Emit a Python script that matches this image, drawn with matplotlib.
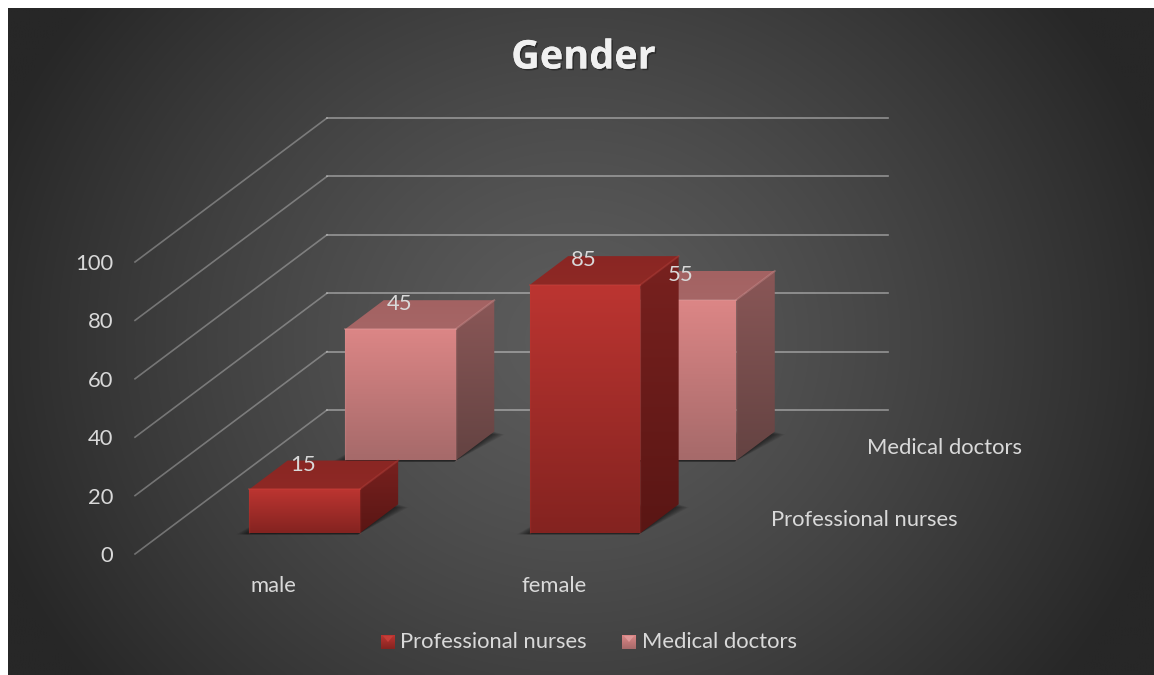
import numpy as np
import matplotlib
matplotlib.use("Agg")
import matplotlib.pyplot as plt
from matplotlib.colors import to_rgb
from matplotlib.patches import Polygon
import matplotlib.patheffects as pe

categories = ["male", "female"]
series_names = ["Professional nurses", "Medical doctors"]
nurses = [15, 85]
doctors = [45, 55]
value_ticks = [0, 20, 40, 60, 80, 100]

plt.rcParams['font.family'] = ['Lato', 'DejaVu Sans']
TEXT = "#d9d9d9"
FS = 15.85

# oblique projection of (category, depth, value) to picture pixels
ORIGIN_X, ORIGIN_Y = 135, 554
CAT_W = 280.5
DEPTH_X, DEPTH_Y = 192, 144
VALUE_H = 2.92
BAR_W = 0.394
BAR_D = 0.2


def project(c, d, v):
    return (ORIGIN_X + CAT_W * c + DEPTH_X * d,
            ORIGIN_Y - VALUE_H * v - DEPTH_Y * d)


def grad_poly(ax, verts, top, bottom, z):
    verts = np.array(verts)
    x0, y0 = verts.min(axis=0)
    x1, y1 = verts.max(axis=0)
    t = np.linspace(0, 1, 64)[:, None, None]
    img = (1 - t) * np.array(to_rgb(top))[None, None, :] + t * np.array(to_rgb(bottom))[None, None, :]
    im = ax.imshow(img, extent=(x0, x1, y1, y0), aspect='auto', zorder=z, interpolation='bilinear')
    clip = Polygon(verts, closed=True, transform=ax.transData)
    im.set_clip_path(clip)


def draw_bar(ax, i, depth, value, colors, z, nudge=0.0):
    c0 = i + 0.5 - BAR_W / 2 + nudge
    c1 = i + 0.5 + BAR_W / 2 + nudge
    d0 = depth - BAR_D / 2
    d1 = depth + BAR_D / 2

    # soft shadow on the floor, a few stacked polygons
    for grow in np.linspace(0.05, 0.0, 9):
        foot = [project(c0 - grow * 0.8, d0 - 0.008, 0), project(c1, d0 - 0.008, 0),
                project(c1 + grow, d1 - grow * 0.4, 0), project(c0, d1 - grow * 0.4, 0)]
        ax.add_patch(Polygon(foot, closed=True, fc="black", ec="none", alpha=0.075, zorder=z))

    front = [project(c0, d0, value), project(c1, d0, value), project(c1, d0, 0), project(c0, d0, 0)]
    side = [project(c1, d0, value), project(c1, d1, value), project(c1, d1, 0), project(c1, d0, 0)]
    top = [project(c0, d0, value), project(c1, d0, value), project(c1, d1, value), project(c0, d1, value)]

    grad_poly(ax, side, colors["side"][0], colors["side"][1], z + 0.1)
    grad_poly(ax, top, colors["top"][0], colors["top"][1], z + 0.2)
    grad_poly(ax, front, colors["front"][0], colors["front"][1], z + 0.3)

    # bevel highlights on the edges
    edge = colors["edge"]
    ax.plot(*zip(front[0], front[1]), color=edge, lw=1.4, alpha=0.4, zorder=z + 0.4)
    ax.plot(*zip(front[1], top[2]), color=edge, lw=1.4, alpha=0.35, zorder=z + 0.4)
    ax.plot(*zip(front[0], front[3]), color=edge, lw=1.0, alpha=0.2, zorder=z + 0.4)
    ax.plot(*zip(front[1], front[2]), color=edge, lw=1.0, alpha=0.2, zorder=z + 0.4)


nurse_colors = {"front": ("#bc3531", "#842320"), "side": ("#78211f", "#5a1614"),
                "top": ("#8a2623", "#8e2925"), "edge": "#c8403a"}
doctor_colors = {"front": ("#dc8686", "#a66a6a"), "side": ("#8a5757", "#644342"),
                 "top": ("#a36262", "#a66666"), "edge": "#e09a9a"}

fig = plt.figure(figsize=(11.54, 6.75), dpi=100, facecolor="white")
ax = fig.add_axes([0, 0, 1, 1])
ax.axis("off")

# radial background
xx, yy = np.meshgrid(np.linspace(8, 1154, 400), np.linspace(8, 675, 240))
r = np.sqrt(((xx - 575) / 620) ** 2 + ((yy - 340) / 560) ** 2)
r = np.clip(r, 0, 1) ** 1.3
shade = (0x5c * (1 - r) + 0x27 * r) / 255
ax.imshow(np.dstack([shade, shade, shade]), extent=(8, 1154, 675, 8), aspect='auto',
          zorder=0, interpolation='bilinear')

# gridlines: along the side wall, then along the back wall
for v in value_ticks:
    pts = [project(0, 0, v), project(0, 1, v), project(2, 1, v)]
    ax.plot(*zip(pts[0], pts[1]), color="#ffffff", alpha=0.3, lw=1.2, zorder=1)
    ax.plot(*zip(pts[1], pts[2]), color="#ffffff", alpha=0.42, lw=1.2, zorder=1)
    x, y = project(0, 0, v)
    ax.text(x - 22, y + 2, str(v), ha="right", va="center", color=TEXT, fontsize=FS, zorder=20)

# back row first so the front row covers it
for i in range(len(categories)):
    draw_bar(ax, i, 0.75, doctors[i], doctor_colors, 3 + i, nudge=0.002)
for i in range(len(categories)):
    draw_bar(ax, i, 0.245, nurses[i], nurse_colors, 6 + i, nudge=0.005)

# value labels sit on the back edge of the bar top
for vals, depth in [(nurses, 0.245), (doctors, 0.75)]:
    for i, v in enumerate(vals):
        x, _ = project(i + 0.5, depth - BAR_D / 2, v)
        _, y = project(i + 0.5, depth + BAR_D / 2, v)
        ax.text(x, y + 4, str(v), ha="center", va="center", color=TEXT, fontsize=FS, zorder=20)

for i, name in enumerate(categories):
    x, y = project(i + 0.5, 0, 0)
    ax.text(x - 2, y + 32, name, ha="center", va="center", color=TEXT, fontsize=FS, zorder=20)

for name, depth in zip(series_names, [0.25, 0.75]):
    x, y = project(2, depth, 0)
    ax.text(x + 27, y + 2, name, ha="left", va="center", color=TEXT, fontsize=FS, zorder=20)

ax.text(583.5, 58, "Gender", ha="center", va="center", color="#f0f0f0", fontsize=28.5,
        fontweight="bold", family="Open Sans", zorder=20,
        path_effects=[pe.withSimplePatchShadow(offset=(1.2, -1.2), shadow_rgbFace="black", alpha=0.35), pe.Normal()])

# legend with the little bevelled squares
for name, mx, tx, cols in [(series_names[0], 381, 400, nurse_colors),
                           (series_names[1], 622, 642, doctor_colors)]:
    grad_poly(ax, [(mx, 635), (mx + 14, 635), (mx + 14, 649), (mx, 649)],
              cols["front"][0], cols["front"][1], 20)
    ax.add_patch(Polygon([(mx + 2, 636), (mx + 12, 636), (mx + 7, 642)], closed=True,
                         fc=cols["edge"], ec="none", alpha=0.9, zorder=21))
    ax.text(tx, 642, name, ha="left", va="center", color=TEXT, fontsize=FS, zorder=20)

ax.set_xlim(0, 1154)
ax.set_ylim(675, 0)
fig.savefig("out.png", dpi=100, facecolor="white")
